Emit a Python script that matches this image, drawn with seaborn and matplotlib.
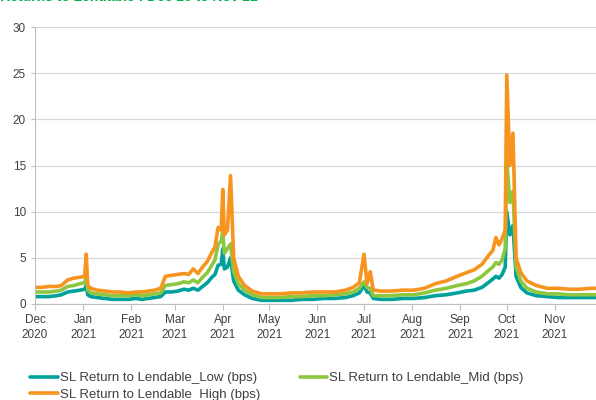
import pandas as pd
import numpy as np
import matplotlib
matplotlib.use("Agg")
import matplotlib.pyplot as plt
import matplotlib.dates as mdates
import seaborn as sns

dates = [
    "2020-12-01", "2020-12-05", "2020-12-10", "2020-12-15", "2020-12-18", "2020-12-22",
    "2020-12-26", "2020-12-30", "2021-01-02", "2021-01-03", "2021-01-04", "2021-01-06",
    "2021-01-10", "2021-01-15", "2021-01-20", "2021-01-25", "2021-01-30", "2021-02-04",
    "2021-02-08", "2021-02-12", "2021-02-16", "2021-02-20", "2021-02-23", "2021-02-27",
    "2021-03-03", "2021-03-07", "2021-03-10", "2021-03-13", "2021-03-16", "2021-03-19",
    "2021-03-22", "2021-03-25", "2021-03-27", "2021-03-29", "2021-03-31", "2021-04-01",
    "2021-04-02", "2021-04-04", "2021-04-06", "2021-04-08", "2021-04-11", "2021-04-15",
    "2021-04-20", "2021-04-26", "2021-05-01", "2021-05-08", "2021-05-15", "2021-05-22",
    "2021-05-29", "2021-06-05", "2021-06-12", "2021-06-19", "2021-06-24", "2021-06-28",
    "2021-07-01", "2021-07-03", "2021-07-05", "2021-07-07", "2021-07-12", "2021-07-19",
    "2021-07-26", "2021-08-02", "2021-08-09", "2021-08-16", "2021-08-23", "2021-08-30",
    "2021-09-05", "2021-09-10", "2021-09-15", "2021-09-19", "2021-09-22", "2021-09-24",
    "2021-09-26", "2021-09-28", "2021-09-30", "2021-10-01", "2021-10-03", "2021-10-05",
    "2021-10-07", "2021-10-10", "2021-10-14", "2021-10-20", "2021-10-27", "2021-11-03",
    "2021-11-10", "2021-11-17", "2021-11-24", "2021-11-28",
]

low = [
    0.8, 0.8, 0.8, 0.9, 1.0, 1.3, 1.4, 1.5, 1.6, 2.0, 1.0, 0.8,
    0.7, 0.6, 0.5, 0.5, 0.5, 0.6, 0.5, 0.6, 0.7, 0.8, 1.3, 1.3,
    1.4, 1.6, 1.5, 1.7, 1.5, 1.9, 2.3, 2.9, 3.2, 4.2, 4.3, 6.0,
    3.8, 4.0, 5.0, 2.5, 1.5, 1.0, 0.6, 0.4, 0.4, 0.4, 0.4, 0.5,
    0.5, 0.6, 0.6, 0.7, 0.9, 1.2, 2.0, 1.3, 1.2, 0.6, 0.5, 0.5,
    0.6, 0.6, 0.7, 0.9, 1.0, 1.2, 1.4, 1.5, 1.8, 2.3, 2.7, 3.0,
    2.8, 3.2, 4.0, 10.0, 7.5, 8.5, 3.0, 1.8, 1.2, 0.9, 0.8, 0.7,
    0.7, 0.7, 0.7, 0.7,
]

mid = [
    1.3, 1.3, 1.3, 1.4, 1.5, 1.9, 2.0, 2.2, 2.3, 3.0, 1.5, 1.2,
    1.1, 1.0, 0.9, 0.9, 0.9, 1.0, 0.9, 1.0, 1.1, 1.2, 2.0, 2.1,
    2.2, 2.4, 2.3, 2.6, 2.3, 2.9, 3.4, 4.2, 4.8, 6.5, 6.8, 8.0,
    5.5, 6.0, 6.5, 3.5, 2.2, 1.5, 1.0, 0.7, 0.7, 0.7, 0.8, 0.8,
    0.9, 0.9, 1.0, 1.1, 1.3, 1.7, 2.4, 1.8, 1.7, 0.9, 0.9, 0.9,
    1.0, 1.0, 1.2, 1.5, 1.7, 2.0, 2.2, 2.5, 3.0, 3.6, 4.0, 4.5,
    4.3, 4.8, 6.0, 15.5, 11.0, 12.2, 4.0, 2.5, 1.7, 1.3, 1.1, 1.1,
    1.0, 1.0, 1.0, 1.0,
]

high = [
    1.8, 1.8, 1.9, 1.9, 2.0, 2.6, 2.8, 2.9, 3.0, 5.4, 2.0, 1.7,
    1.5, 1.4, 1.3, 1.3, 1.2, 1.3, 1.3, 1.4, 1.5, 1.7, 3.0, 3.1,
    3.2, 3.3, 3.2, 3.8, 3.3, 4.0, 4.6, 5.6, 6.2, 8.3, 8.0, 12.4,
    7.5, 8.0, 13.9, 5.0, 3.0, 2.0, 1.4, 1.1, 1.1, 1.1, 1.2, 1.2,
    1.3, 1.3, 1.3, 1.5, 1.8, 2.3, 5.4, 2.2, 3.5, 1.5, 1.4, 1.4,
    1.5, 1.5, 1.7, 2.2, 2.5, 3.0, 3.4, 3.7, 4.3, 5.2, 5.8, 7.2,
    6.4, 7.1, 8.0, 24.8, 15.0, 18.5, 5.0, 3.4, 2.5, 2.0, 1.7, 1.7,
    1.6, 1.6, 1.7, 1.7,
]

series_names = [
    "SL Return to Lendable_Low (bps)",
    "SL Return to Lendable_Mid (bps)",
    "SL Return to Lendable_High (bps)",
]
colors = ["#00A19B", "#8DC63F", "#F7941D"]

df = pd.DataFrame({"date": pd.to_datetime(dates)})
df[series_names[0]] = low
df[series_names[1]] = mid
df[series_names[2]] = high
long_df = df.melt(id_vars="date", var_name="series", value_name="bps")

sns.set_style("white")
plt.rcParams["font.family"] = ["Liberation Sans", "DejaVu Sans"]

fig = plt.figure(figsize=(5.96, 4.0), dpi=100)
ax = fig.add_axes([35 / 596, 1 - 304 / 400, 1 - 35 / 596, (304 - 27) / 400])

sns.lineplot(data=long_df, x="date", y="bps", hue="series", hue_order=series_names,
             palette=colors, linewidth=2.6, ax=ax, legend=False)

ax.set_ylim(0, 30)
ax.set_yticks(range(0, 31, 5))
ax.set_xlim(pd.Timestamp("2020-12-01"), pd.Timestamp("2021-11-27 12:00"))
ax.xaxis.set_major_locator(mdates.MonthLocator())
ax.xaxis.set_major_formatter(mdates.DateFormatter("%b\n%Y"))
ax.set_xlabel("")
ax.set_ylabel("")
ax.grid(axis="y", color="#D9D9D9", linewidth=0.9)
ax.set_axisbelow(True)
for s in ["top", "right"]:
    ax.spines[s].set_visible(False)
for s in ["left", "bottom"]:
    ax.spines[s].set_color("#BFBFBF")
ax.tick_params(axis="x", colors="#BFBFBF", labelcolor="#404040", labelsize=8.5,
               length=4, direction="out", bottom=True)
ax.tick_params(axis="y", colors="#BFBFBF", labelcolor="#404040", labelsize=8.5,
               length=3, direction="out", left=True)
for lab in ax.get_xticklabels():
    lab.set_linespacing(1.3)

# legend rows: Low | Mid, then High below Low
handles = [plt.Line2D([0], [0], color=c, linewidth=2.6) for c in colors]
order = [0, 2, 1]
fig.legend([handles[i] for i in order], [series_names[i] for i in order],
           ncol=2, loc="upper left", bbox_to_anchor=(30 / 596, 1 - 372 / 400),
           frameon=False, fontsize=9.5, handlelength=2.1, handletextpad=0.15,
           columnspacing=3.0, labelspacing=0.35, borderpad=0, borderaxespad=0,
           labelcolor="#404040")

fig.text(258 / 596, 1.0 + 3 / 400, "SL Returns to Lendable : Dec 20 to Nov 21", ha="right",
         va="center", color="#00B050", fontsize=10, fontweight="bold")

fig.savefig("out.png", dpi=100)
